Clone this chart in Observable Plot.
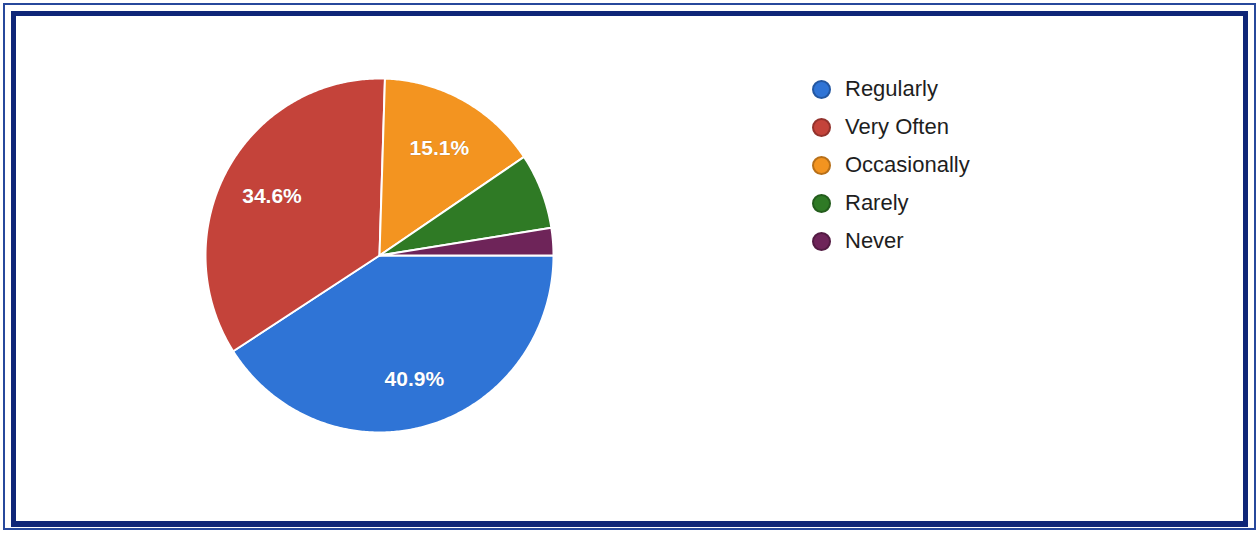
<!DOCTYPE html>
<html>
<head>
<meta charset="utf-8">
<script src="https://cdn.jsdelivr.net/npm/d3@7"></script>
<script src="https://cdn.jsdelivr.net/npm/@observablehq/plot@0.6"></script>
<style>
  html, body { margin: 0; padding: 0; background: #ffffff; }
  #wrap { position: relative; width: 1259px; height: 533px; overflow: hidden; background: #fff; font-family: "Liberation Sans", Arial, sans-serif; }
  #outer { position: absolute; left: 3px; top: 3px; right: 3px; bottom: 3px; border: 2px solid #27489c; }
  #inner { position: absolute; left: 11px; top: 11px; right: 11px; bottom: 6px; border: 5px solid #0f2678; border-bottom-width: 6px; }
  #chart { position: absolute; left: 0; top: 0; }
  #legend { position: absolute; left: 812px; top: 70px; }
  .item { display: flex; align-items: center; height: 38px; font-size: 22px; color: #1e1e1e; }
  .sw { width: 19px; height: 19px; border-radius: 50%; margin-right: 14px; box-sizing: border-box; }
</style>
</head>
<body>
<div id="wrap">
  <div id="outer"></div>
  <div id="inner"></div>
  <div id="chart"></div>
  <div id="legend"></div>
</div>
<script>
const categories = ["Regularly", "Very Often", "Occasionally", "Rarely", "Never"];
const values = [40.9, 34.6, 15.1, 6.9, 2.5];
const colors = ["#2f74d6", "#c4433a", "#f39420", "#2f7a25", "#6e2459"];
const labels = ["40.9%", "34.6%", "15.1%", "", ""];

const startAngle = Math.PI / 2; // slices start at 3 o'clock, clockwise
const pie = d3.pie().sort(null).startAngle(startAngle).endAngle(startAngle + 2 * Math.PI)(values);

// polygon outline of each slice in unit coordinates
const poly = [];
pie.forEach((s, i) => {
  const name = categories[i];
  poly.push({name, x: 0, y: 0});
  const n = Math.max(2, Math.ceil((s.endAngle - s.startAngle) / 0.01));
  for (let k = 0; k <= n; k++) {
    const a = s.startAngle + (s.endAngle - s.startAngle) * k / n;
    poly.push({name, x: Math.sin(a), y: Math.cos(a)});
  }
  poly.push({name, x: 0, y: 0});
});

const labelData = pie.map((s, i) => {
  const a = (s.startAngle + s.endAngle) / 2;
  return {text: labels[i], x: 0.71 * Math.sin(a), y: 0.71 * Math.cos(a)};
}).filter(d => d.text);

const cx = 379, cy = 255, rx = 174, ry = 177;
const chart = Plot.plot({
  width: 1259,
  height: 533,
  margin: 0,
  x: {domain: [-1, 1], range: [cx - rx, cx + rx], axis: null},
  y: {domain: [-1, 1], range: [cy + ry, cy - ry], axis: null},
  color: {domain: categories, range: colors},
  style: {background: "transparent", fontFamily: "Liberation Sans, Arial, sans-serif"},
  marks: [
    Plot.line(poly, {x: "x", y: "y", z: "name", fill: "name", stroke: "white", strokeWidth: 2, strokeLinejoin: "round"}),
    Plot.text(labelData, {x: "x", y: "y", dy: 3, text: "text", fill: "white", fontSize: 21, fontWeight: "bold", stroke: "#333", strokeWidth: 0.6, strokeOpacity: 0.3})
  ]
});
document.getElementById("chart").appendChild(chart);

const legend = document.getElementById("legend");
categories.forEach((c, i) => {
  const it = document.createElement("div");
  it.className = "item";
  const sw = document.createElement("div");
  sw.className = "sw";
  sw.style.background = colors[i];
  sw.style.border = "2px solid " + d3.color(colors[i]).darker(0.8);
  const t = document.createElement("span");
  t.textContent = c;
  it.appendChild(sw);
  it.appendChild(t);
  legend.appendChild(it);
});
</script>
</body>
</html>
